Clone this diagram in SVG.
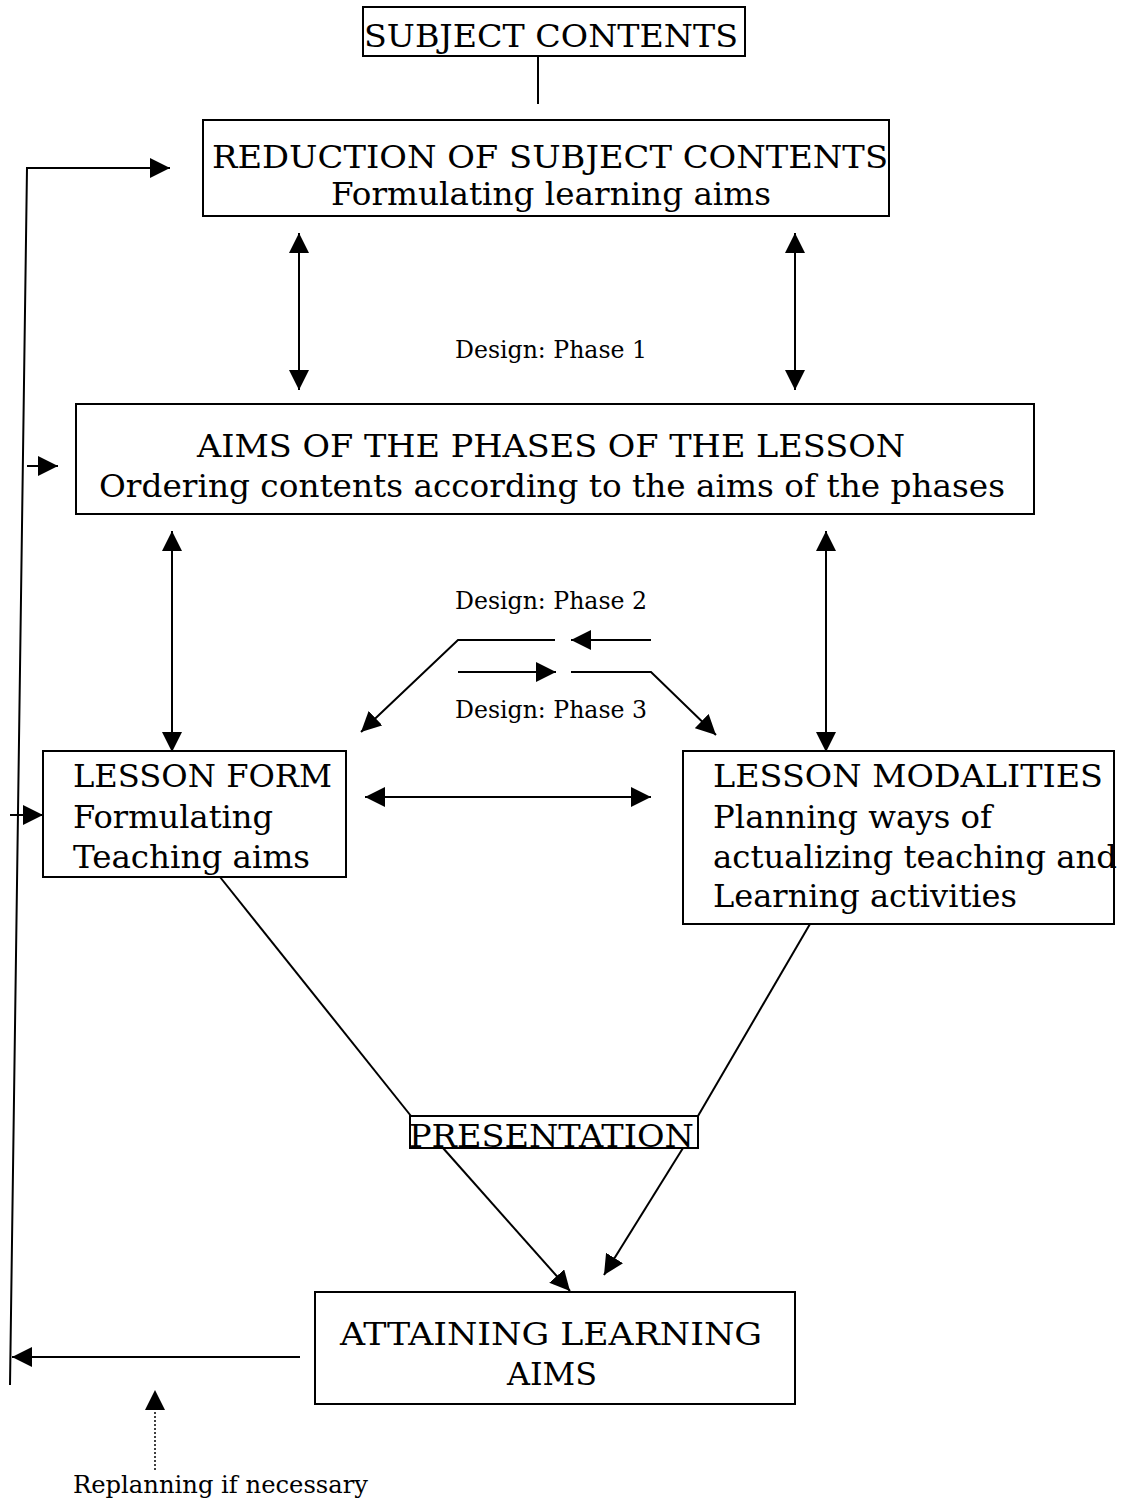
<svg xmlns="http://www.w3.org/2000/svg" width="1126" height="1506" viewBox="0 0 1126 1506">
<style>
.box{fill:none;stroke:#000;stroke-width:2}
.ln{fill:none;stroke:#000;stroke-width:2}
.t{font-family:"DejaVu Serif","Liberation Serif",serif;font-size:32px;fill:#000}
.s{font-family:"DejaVu Serif","Liberation Serif",serif;font-size:24px;fill:#000}
</style>
<defs>
<marker id="ah" markerUnits="userSpaceOnUse" markerWidth="20" markerHeight="20" refX="20" refY="10" orient="auto-start-reverse" viewBox="0 0 20 20"><path d="M0,0 L20,10 L0,20 z" fill="#000"/></marker>
</defs>
<rect width="1126" height="1506" fill="#fff"/>
<g id="subject-contents">
<rect class="box" x="363" y="7" width="382" height="49"/>
<text class="t" x="364" y="47" textLength="374" lengthAdjust="spacingAndGlyphs">SUBJECT CONTENTS</text>
</g>
<g id="reduction">
<rect class="box" x="203" y="120" width="686" height="96"/>
<text class="t" x="212" y="168" textLength="676" lengthAdjust="spacingAndGlyphs">REDUCTION OF SUBJECT CONTENTS</text>
<text class="t" x="331" y="205" textLength="440" lengthAdjust="spacingAndGlyphs">Formulating learning aims</text>
</g>
<g id="aims-phases">
<rect class="box" x="76" y="404" width="958" height="110"/>
<text class="t" x="197" y="457" textLength="708" lengthAdjust="spacingAndGlyphs">AIMS OF THE PHASES OF THE LESSON</text>
<text class="t" x="99" y="497" textLength="906" lengthAdjust="spacingAndGlyphs">Ordering contents according to the aims of the phases</text>
</g>
<g id="lesson-form">
<rect class="box" x="43" y="751" width="303" height="126"/>
<text class="t" x="73" y="787" textLength="259" lengthAdjust="spacingAndGlyphs">LESSON FORM</text>
<text class="t" x="73" y="828" textLength="200" lengthAdjust="spacingAndGlyphs">Formulating</text>
<text class="t" x="73" y="868" textLength="237" lengthAdjust="spacingAndGlyphs">Teaching aims</text>
</g>
<g id="lesson-modalities">
<rect class="box" x="683" y="751" width="431" height="173"/>
<text class="t" x="713" y="787" textLength="390" lengthAdjust="spacingAndGlyphs">LESSON MODALITIES</text>
<text class="t" x="713" y="828" textLength="279" lengthAdjust="spacingAndGlyphs">Planning ways of</text>
<text class="t" x="713" y="868" textLength="404" lengthAdjust="spacingAndGlyphs">actualizing teaching and</text>
<text class="t" x="713" y="907" textLength="304" lengthAdjust="spacingAndGlyphs">Learning activities</text>
</g>
<g id="presentation">
<rect class="box" x="410" y="1116" width="288" height="32"/>
<text class="t" x="409" y="1147" textLength="285" lengthAdjust="spacingAndGlyphs">PRESENTATION</text>
</g>
<g id="attaining">
<rect class="box" x="315" y="1292" width="480" height="112"/>
<text class="t" x="340" y="1345" textLength="422" lengthAdjust="spacingAndGlyphs">ATTAINING LEARNING</text>
<text class="t" x="507" y="1385" textLength="90" lengthAdjust="spacingAndGlyphs">AIMS</text>
</g>
<g id="labels">
<text class="s" x="455" y="358" textLength="192" lengthAdjust="spacingAndGlyphs">Design: Phase 1</text>
<text class="s" x="455" y="609" textLength="192" lengthAdjust="spacingAndGlyphs">Design: Phase 2</text>
<text class="s" x="455" y="718" textLength="192" lengthAdjust="spacingAndGlyphs">Design: Phase 3</text>
<text class="s" x="73" y="1493" font-size="26" textLength="295" lengthAdjust="spacingAndGlyphs">Replanning if necessary</text>
</g>
<g id="connectors">
<line class="ln" x1="538" y1="56" x2="538" y2="104"/>
<line class="ln" x1="299" y1="233" x2="299" y2="390" marker-start="url(#ah)" marker-end="url(#ah)"/>
<line class="ln" x1="795" y1="233" x2="795" y2="390" marker-start="url(#ah)" marker-end="url(#ah)"/>
<line class="ln" x1="172" y1="531" x2="172" y2="752" marker-start="url(#ah)" marker-end="url(#ah)"/>
<line class="ln" x1="826" y1="531" x2="826" y2="752" marker-start="url(#ah)" marker-end="url(#ah)"/>
<line class="ln" x1="365" y1="797" x2="651" y2="797" marker-start="url(#ah)" marker-end="url(#ah)"/>
<line class="ln" x1="651" y1="640" x2="571" y2="640" marker-end="url(#ah)"/>
<polyline class="ln" points="555,640 458,640 361,732" marker-end="url(#ah)"/>
<line class="ln" x1="458" y1="672" x2="556" y2="672" marker-end="url(#ah)"/>
<polyline class="ln" points="571,672 651,672 716,735" marker-end="url(#ah)"/>
<line class="ln" x1="220" y1="877" x2="411" y2="1116"/>
<line class="ln" x1="810" y1="924" x2="698" y2="1116"/>
<line class="ln" x1="443" y1="1148" x2="570" y2="1291" marker-end="url(#ah)"/>
<line class="ln" x1="683" y1="1148" x2="604" y2="1275" marker-end="url(#ah)"/>
<line class="ln" x1="300" y1="1357" x2="12" y2="1357" marker-end="url(#ah)"/>
<polyline class="ln" points="10,1385 27,168 170,168" marker-end="url(#ah)"/>
<line class="ln" x1="27" y1="466" x2="58" y2="466" marker-end="url(#ah)"/>
<line class="ln" x1="10" y1="815" x2="43" y2="815" marker-end="url(#ah)"/>
<line x1="155" y1="1470" x2="155" y2="1390" stroke="#000" stroke-width="1.5" stroke-dasharray="2,2" marker-end="url(#ah)"/>
</g>
</svg>
